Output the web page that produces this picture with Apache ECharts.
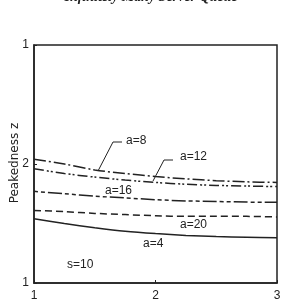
<!DOCTYPE html>
<html>
<head>
<meta charset="utf-8">
<script src="https://cdn.jsdelivr.net/npm/echarts@6/dist/echarts.min.js"></script>
<style>
html,body{margin:0;padding:0;background:#fff;}
#chart{width:302px;height:306px;}
</style>
</head>
<body>
<div id="chart"></div>
<script>
var xValues = [1, 1.25, 1.5, 1.75, 2, 2.25, 2.5, 2.75, 3];
var a8  = [2.04, 2.00, 1.95, 1.92, 1.895, 1.875, 1.86, 1.85, 1.845];
var a12 = [1.96, 1.92, 1.89, 1.865, 1.845, 1.83, 1.82, 1.815, 1.81];
var a16 = [1.77, 1.75, 1.73, 1.715, 1.70, 1.69, 1.685, 1.68, 1.678];
var a20 = [1.61, 1.60, 1.585, 1.575, 1.565, 1.56, 1.56, 1.56, 1.555];
var a4  = [1.54, 1.50, 1.465, 1.435, 1.415, 1.40, 1.39, 1.385, 1.38];
var yTickLabels = {1: "1", 2: "2", 3: "1"};
var xTickLabels = {1: "1", 2: "2", 3: "3"};
var titleText = "Infinitely Many Server Queue";
var yName = "Peakedness z";

function pairs(ys) { return xValues.map(function (x, i) { return [x, ys[i]]; }); }

var ink = '#222';
var chart = echarts.init(document.getElementById('chart'), null, {renderer: 'canvas'});
function line(name, data, type) {
  return {
    name: name, type: 'line', data: pairs(data), smooth: 0.3, showSymbol: false, symbol: 'none',
    lineStyle: {color: ink, width: 1.5, type: type}
  };
}
var txt = {fontFamily: 'Liberation Sans', fontSize: 12, fill: ink};
chart.setOption({
  animation: false,
  backgroundColor: '#fff',
  grid: {left: 34, right: 25, top: 45, bottom: 23, show: true, borderColor: ink, borderWidth: 1.5},
  xAxis: {
    type: 'value', min: 1, max: 3, interval: 1,
    axisLine: {show: true, lineStyle: {color: ink, width: 1.5}},
    axisTick: {show: true, inside: true, length: 3, lineStyle: {color: ink}},
    splitLine: {show: false},
    axisLabel: {color: ink, fontFamily: 'Liberation Sans', fontSize: 12, margin: 7,
      formatter: function (v) { return xTickLabels[v] || ''; }}
  },
  yAxis: {
    type: 'value', min: 1, max: 3, interval: 1,
    axisLine: {show: true, lineStyle: {color: ink, width: 1.5}},
    axisTick: {show: true, inside: true, length: 3, lineStyle: {color: ink}},
    splitLine: {show: false},
    axisLabel: {color: ink, fontFamily: 'Liberation Sans', fontSize: 12, margin: 5,
      formatter: function (v) { return yTickLabels[v] || ''; }}
  },
  series: [
    line('a=8', a8, [12, 3, 2, 3]),
    line('a=12', a12, [10, 3, 2, 2, 2, 3]),
    line('a=16', a16, [4, 3, 4, 3, 14, 3]),
    line('a=20', a20, [7, 4]),
    line('a=4', a4, 'solid')
  ],
  graphic: [
    {type: 'text', left: 'center', top: -10, style: {text: titleText, font: 'italic bold 14px "Liberation Serif"', fill: ink}},
    {type: 'text', x: 15, y: 163, rotation: Math.PI / 2, style: {text: yName, fontFamily: 'DejaVu Sans', fontSize: 12, fill: ink, align: 'center', verticalAlign: 'middle'}},
    {type: 'text', x: 126, y: 141, style: Object.assign({text: 'a=8', verticalAlign: 'middle'}, txt)},
    {type: 'text', x: 180, y: 157, style: Object.assign({text: 'a=12', verticalAlign: 'middle'}, txt)},
    {type: 'text', x: 105, y: 191, style: Object.assign({text: 'a=16', verticalAlign: 'middle'}, txt)},
    {type: 'text', x: 180, y: 225, style: Object.assign({text: 'a=20', verticalAlign: 'middle'}, txt)},
    {type: 'text', x: 143, y: 244, style: Object.assign({text: 'a=4', verticalAlign: 'middle'}, txt)},
    {type: 'text', x: 67, y: 265, style: Object.assign({text: 's=10', verticalAlign: 'middle'}, txt)},
    {type: 'polyline', shape: {points: [[98, 171], [113, 142], [122, 142]]}, style: {stroke: ink, lineWidth: 1, fill: null}},
    {type: 'polyline', shape: {points: [[153, 181], [164, 160], [173, 160]]}, style: {stroke: ink, lineWidth: 1, fill: null}}
  ]
});
</script>
</body>
</html>
